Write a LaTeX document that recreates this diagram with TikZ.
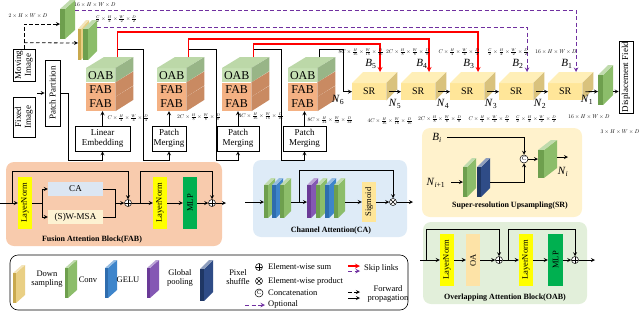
\documentclass[tikz,border=0pt]{standalone}
\usepackage{fontspec}
\setmainfont{Liberation Serif}
\usepackage{graphicx}
\usepackage{tikz}
\usetikzlibrary{positioning,calc}

\definecolor{oabfront}{HTML}{C5E0B3}
\definecolor{oabtop}{HTML}{BCD8A8}
\definecolor{oabside}{HTML}{98B587}
\definecolor{fabfront}{HTML}{F4B183}
\definecolor{fabside}{HTML}{C98A62}
\definecolor{srfront}{HTML}{FFE699}
\definecolor{srtop}{HTML}{FFEFB8}
\definecolor{srside}{HTML}{D9C27D}
\definecolor{fabpanel}{HTML}{F8CBAD}
\definecolor{capanel}{HTML}{DEEBF7}
\definecolor{srpanel}{HTML}{FFF2CC}
\definecolor{oabpanel}{HTML}{E2EFDA}
\definecolor{cabox}{HTML}{DCE6F2}
\definecolor{msabox}{HTML}{FDF2D2}
\definecolor{oabox}{HTML}{FDE3A7}
\definecolor{normbox}{HTML}{FFFF00}
\definecolor{mlpbox}{HTML}{00B050}
\definecolor{sigbox}{HTML}{FFE699}
\definecolor{optpurple}{HTML}{7030A0}
\definecolor{convf}{HTML}{6E9F4E}
\definecolor{convs}{HTML}{8CBD6A}
\definecolor{geluf}{HTML}{2F6DAE}
\definecolor{gelus}{HTML}{3E85CB}
\definecolor{poolf}{HTML}{6A3A97}
\definecolor{pools}{HTML}{8458B4}
\definecolor{pixf}{HTML}{1F3764}
\definecolor{pixs}{HTML}{2F4C87}
\definecolor{downf}{HTML}{C9A94E}
\definecolor{downs}{HTML}{E9CF84}

\newcommand{\tinymath}[1]{\scalebox{0.55}{$#1$}}
\newcommand{\dimlab}[2]{\tinymath{#1\times\frac{H}{#2}\times\frac{W}{#2}\times\frac{D}{#2}}}
\newcommand{\nlab}[2]{\textit{#1}\textsubscript{#2}}
\newcommand{\vtxt}[1]{\rotatebox{90}{#1}}
% thin 3D slab: x, y of front bottom-left, width, height, dx, dy, front colour, side colour
\newcommand{\slab}[8]{%
  \fill[#8] (#1+#3,#2) -- ++(#5,-#6) -- ++(0,-#4) -- ++(-#5,#6) -- cycle;
  \fill[#8!55!white] (#1,#2-#4) -- ++(#5,-#6) -- ++(#3,0) -- ++(-#5,#6) -- cycle;
  \fill[#7] (#1,#2) rectangle ++(#3,-#4);
}
% encoder stage cube: name, x, y of front top-left
\newcommand{\stagecube}[3]{%
  \node[layerbox,fill=oabfront,anchor=north west] (#1o) at (#2,#3) {OAB};
  \node[layerbox,fill=fabfront,below=0pt of #1o] (#1f) {FAB};
  \node[layerbox,fill=fabfront,below=0pt of #1f] (#1g) {FAB};
  \fill[oabtop] (#1o.north west) -- ++(18,-11) -- ++(29,0) -- (#1o.north east) -- cycle;
  \fill[oabside] (#1o.north east) -- ++(18,-11) -- ++(0,14) -- (#1o.south east) -- cycle;
  \fill[fabside] (#1f.north east) -- ++(18,-11) -- ++(0,14) -- (#1f.south east) -- cycle;
  \fill[fabside] (#1g.north east) -- ++(18,-11) -- ++(0,14) -- (#1g.south east) -- cycle;
  \coordinate (#1t) at ($(#1o.north east)+(2,-11)$);
}
% SR cube: name, x of front left
\newcommand{\srcube}[2]{%
  \node[srbox,anchor=north west] (#1) at (#2,83) {SR};
  \fill[srtop] (#1.north west) -- ++(11,-11) -- ++(34,0) -- (#1.north east) -- cycle;
  \fill[srside] (#1.north east) -- ++(11,-11) -- ++(0,17) -- (#1.south east) -- cycle;
  \coordinate (#1t) at ($(#1.north west)+(28,-11)$);
}

\begin{document}
\begin{tikzpicture}[x=1pt,y=-1pt,>=stealth,
  every node/.style={inner sep=0pt},
  conn/.style={->,line width=0.8pt},
  wire/.style={line width=0.8pt},
  skipred/.style={->,red,line width=1.2pt},
  optdash/.style={->,optpurple,line width=1pt,dash pattern=on 4pt off 2.5pt},
  fwddash/.style={->,line width=0.8pt,dash pattern=on 3.5pt off 2.5pt},
  plainbox/.style={draw,fill=white,line width=0.6pt,align=center,font=\fontsize{9}{10}\selectfont},
  layerbox/.style={minimum width=29pt,minimum height=14pt,font=\fontsize{12}{12}\selectfont},
  srbox/.style={fill=srfront,minimum width=34pt,minimum height=17pt,font=\fontsize{10}{10}\selectfont},
  dimlbl/.style={font=\fontsize{10}{10}\selectfont},
  symlbl/.style={font=\fontsize{11}{11}\selectfont},
  paneltitle/.style={font=\fontsize{8}{8}\selectfont\bfseries},
  legtxt/.style={font=\fontsize{8.5}{9.5}\selectfont,align=center},
  blockbox/.style={minimum width=14pt,minimum height=52pt,font=\fontsize{8.5}{8.5}\selectfont},
  flatbox/.style={minimum width=55pt,minimum height=14pt,font=\fontsize{9}{9}\selectfont},
  oplus/.style={circle,draw,fill=white,minimum size=7pt,line width=0.5pt,
    path picture={\draw[line width=0.5pt] (path picture bounding box.north) -- (path picture bounding box.south)
      (path picture bounding box.west) -- (path picture bounding box.east);}},
  otimes/.style={circle,draw,fill=white,minimum size=7pt,line width=0.5pt,
    path picture={\draw[line width=0.5pt] (path picture bounding box.north west) -- (path picture bounding box.south east)
      (path picture bounding box.north east) -- (path picture bounding box.south west);}},
  ocat/.style={circle,draw,fill=white,minimum size=8pt,line width=0.5pt,font=\fontsize{6}{6}\selectfont}]

\useasboundingbox (0,0) rectangle (640,311);

% panels
\fill[fabpanel,rounded corners=8pt] (6,162) rectangle (222,246);
\fill[capanel,rounded corners=8pt] (253,160) rectangle (407,237);
\fill[srpanel,rounded corners=8pt] (422,128) rectangle (582,217);
\fill[oabpanel,rounded corners=8pt] (423,222) rectangle (587,304);
\draw[fill=white,rounded corners=8pt,line width=0.6pt] (10,255) rectangle (408,310);

% inputs and encoder
\node[plainbox,minimum width=22pt,minimum height=32pt] (mov) at (24,65) {\vtxt{\begin{tabular}{@{}c@{}}Moving\\Image\end{tabular}}};
\node[plainbox,minimum width=22pt,minimum height=40pt] (fix) at (24,117) {\vtxt{\begin{tabular}{@{}c@{}}Fixed\\Image\end{tabular}}};
\node[plainbox,minimum width=15pt,minimum height=66pt] (pp) at (52.5,93) {\vtxt{Patch Partition}};
\node[plainbox,minimum width=55pt,minimum height=25pt] (le) at (102.5,138.5) {Linear\\Embedding};
\node[plainbox,minimum width=34pt,minimum height=25pt] (pm1) at (169,138.5) {Patch\\Merging};
\node[plainbox,minimum width=42pt,minimum height=25pt] (pm2) at (238,138.5) {Patch\\Merging};
\node[plainbox,minimum width=43pt,minimum height=25pt] (pm3) at (304.5,138.5) {Patch\\Merging};
\coordinate (pin) at (37,93);

\stagecube{c1}{86}{68}
\stagecube{c2}{157}{68}
\stagecube{c3}{222}{68}
\stagecube{c4}{288}{68}

% decoder
\srcube{sr5}{352}
\srcube{sr4}{401}
\srcube{sr3}{450}
\srcube{sr2}{499}
\srcube{sr1}{548}

\slab{60}{39}{5}{30}{10}{9}{convf}{convs}
\slab{78}{60}{3}{31}{8}{9}{downf}{downs}
\slab{83}{60}{5}{31}{9}{9}{convf}{convs}
\slab{598}{105}{5}{30}{10}{10}{convf}{convs}
\coordinate (s1in) at (60,24);
\coordinate (s1out) at (75,10);
\coordinate (s2in) at (78,43);
\coordinate (s2out) at (97,27);
\coordinate (s3in) at (598,91.5);
\coordinate (s3out) at (613,91.5);
\node[plainbox,minimum width=14pt,minimum height=72pt] (disp) at (626,77) {\vtxt{Displacement Field}};

\draw[fwddash] (mov.north) |- (s1in);
\draw[fwddash] ($(mov.north)+(0,-6)$) -- (s2in);
\draw[conn] (pin) -- (pp.west);
\draw[conn] (pp.east) -- ++(8,0) |- ($(le.south)+(0,9)$) -- (le.south);
\draw[conn] (le.north) -- (le.north |- c1g.south);
\draw[conn] (pm1.north) -- (pm1.north |- c2g.south);
\draw[conn] (pm2.north) -- (pm2.north |- c3g.south);
\draw[conn] (pm3.north) -- (pm3.north |- c4g.south);
\draw[conn] (c1t) -- ++(0,-8) -- ++(26,0) |- ($(pm1.south)+(0,9)$) -- (pm1.south);
\draw[conn] (c2t) -- ++(0,-8) -- ++(28,0) |- ($(pm2.south)+(0,9)$) -- (pm2.south);
\draw[conn] (c3t) -- ++(0,-8) -- ++(28,0) |- ($(pm3.south)+(0,9)$) -- (pm3.south);
\draw[conn] (c4t) -- ++(0,-8) -- ++(24,0) |- (sr5.west);
\draw[skipred] (c1t) -- ++(0,-25) -| (sr3t);
\draw[skipred] (c2t) -- ++(0,-18) -| (sr4t);
\draw[skipred] (c3t) -- ++(0,-13) -| (sr5t);
\draw[optdash] (s1out) -| (sr1t);
\draw[optdash] (s2out) -| (sr2t);
\draw[conn] ([xshift=3pt]sr5.east) -- (sr4.west);
\draw[conn] ([xshift=3pt]sr4.east) -- (sr3.west);
\draw[conn] ([xshift=3pt]sr3.east) -- (sr2.west);
\draw[conn] ([xshift=3pt]sr2.east) -- (sr1.west);
\draw[conn] ([xshift=3pt]sr1.east) -- (s3in);
\draw[conn] (s3out) -- (disp.west |- s3out);

% labels
\node[symlbl] at (338,100) {\nlab{N}{6}};
\node[symlbl] at (395,104) {\nlab{N}{5}};
\node[symlbl] at (443,104) {\nlab{N}{4}};
\node[symlbl] at (491,104) {\nlab{N}{3}};
\node[symlbl] at (540,104) {\nlab{N}{2}};
\node[symlbl] at (587,100) {\nlab{N}{1}};
\node[symlbl] at (371,64) {\nlab{B}{5}};
\node[symlbl] at (422,64) {\nlab{B}{4}};
\node[symlbl] at (469,64) {\nlab{B}{3}};
\node[symlbl] at (518,64) {\nlab{B}{2}};
\node[symlbl] at (567,64) {\nlab{B}{1}};
\node[dimlbl] at (28,16) {\tinymath{2\times H\times W\times D}};
\node[dimlbl] at (95,5) {\tinymath{16\times H\times W\times D}};
\node[dimlbl] at (116,19) {\dimlab{\frac{C}{2}}{2}};
\node[dimlbl] at (128,118) {\dimlab{C}{4}};
\node[dimlbl] at (199,117) {\dimlab{2C}{8}};
\node[dimlbl] at (261,116) {\dimlab{4C}{16}};
\node[dimlbl] at (330,120) {\dimlab{8C}{32}};
\node[dimlbl] at (361,52) {\dimlab{8C}{16}};
\node[dimlbl] at (408,52) {\dimlab{2C}{8}};
\node[dimlbl] at (459,52) {\dimlab{C}{4}};
\node[dimlbl] at (508,52) {\dimlab{\frac{C}{2}}{2}};
\node[dimlbl] at (556,52) {\tinymath{16\times H\times W\times D}};
\node[dimlbl] at (390,121) {\dimlab{4C}{16}};
\node[dimlbl] at (440,119) {\dimlab{2C}{8}};
\node[dimlbl] at (489,119) {\dimlab{C}{4}};
\node[dimlbl] at (536,119) {\dimlab{\frac{C}{2}}{2}};
\node[dimlbl] at (589,117) {\tinymath{16\times H\times W\times D}};
\node[dimlbl] at (620,132) {\tinymath{3\times H\times W\times D}};

% fusion attention block
\coordinate (fin) at (0,203);
\node[blockbox,fill=normbox] (fln1) at (25,203) {\vtxt{LayerNorm}};
\node[flatbox,fill=cabox] (fca) at (75.5,189) {CA};
\node[flatbox,fill=msabox] (fmsa) at (75.5,217) {(S)W-MSA};
\node[oplus] (fp1) at (128,203) {};
\node[blockbox,fill=normbox] (fln2) at (160,203) {\vtxt{LayerNorm}};
\node[blockbox,fill=mlpbox] (fmlp) at (190,203) {\vtxt{MLP}};
\node[oplus] (fp2) at (212,203) {};
\coordinate (fout) at (226,203);
\node[paneltitle] at (92,240) {Fusion Attention Block(FAB)};
\draw[conn] (fin) -- (fln1);
\draw[conn] ($(fin)+(12,0)$) -- ++(0,-32) -| (fp1);
\draw[wire] (fln1.east) -- ++(10,0) coordinate (fsplit);
\draw[conn] (fsplit) |- (fca);
\draw[conn] (fsplit) |- (fmsa);
\draw[wire] (fca.east) -| ++(12,28) -- (fmsa.east);
\draw[conn] ($(fca.east)+(12,14)$) -- (fp1);
\draw[conn] (fp1) -- (fln2);
\draw[conn] ($(fp1)+(12,0)$) -- ++(0,-32) -| (fp2);
\draw[conn] (fln2) -- (fmlp);
\draw[conn] (fmlp) -- (fp2);
\draw[conn] (fp2) -- (fout);

% channel attention
\coordinate (cin) at (245,202);
\slab{264}{218}{4}{33}{7}{7}{convf}{convs}
\slab{272}{218}{4}{33}{7}{7}{geluf}{gelus}
\slab{280}{218}{4}{33}{7}{7}{convf}{convs}
\coordinate (ca1i) at (264,202);
\coordinate (ca1o) at (291,202);
\slab{307}{218}{4}{33}{7}{7}{poolf}{pools}
\slab{316}{218}{4}{33}{7}{7}{convf}{convs}
\slab{325}{218}{4}{33}{7}{7}{geluf}{gelus}
\slab{334}{218}{4}{33}{7}{7}{convf}{convs}
\coordinate (ca2i) at (307,202);
\coordinate (ca2o) at (345,202);
\node[fill=sigbox,minimum width=14pt,minimum height=40pt,font=\fontsize{8.5}{8.5}\selectfont] (csig) at (369,202) {\vtxt{Sigmoid}};
\node[otimes] (cx) at (393,202) {};
\coordinate (cout) at (413,202);
\node[paneltitle] at (331,231) {Channel Attention(CA)};
\draw[conn] (cin) -- (ca1i);
\draw[conn] (ca1o) -- (ca2i);
\draw[conn] ($(ca1o)+(8,0)$) -- ++(0,-32) -| (cx);
\draw[conn] (ca2o) -- (csig);
\draw[conn] (csig) -- (cx);
\draw[conn] (cx) -- (cout);

% super-resolution upsampling
\node[symlbl] at (437,138) {\nlab{B}{\textit{i}}};
\coordinate (sbin) at (447,137);
\node[ocat] (scat) at (524,159) {C};
\node[symlbl] at (436,183) {\nlab{N}{\textit{i}+1}};
\coordinate (snin) at (451,182);
\slab{463}{197}{4}{30}{9}{9}{convf}{convs}
\slab{477}{197}{4}{30}{9}{9}{pixf}{pixs}
\coordinate (snsi) at (463,182);
\coordinate (snso) at (490,182);
\slab{538}{178}{6}{28}{13}{10}{convf}{convs}
\coordinate (sbigi) at (538,159);
\coordinate (sbigo) at (557,157);
\coordinate (sout) at (568,157);
\node[symlbl] at (563,172) {\nlab{N}{\textit{i}}};
\node[paneltitle] at (510,206) {Super-resolution Upsampling(SR)};
\draw[conn] (sbin) -| (scat);
\draw[conn] (snin) -- (snsi);
\draw[conn] (snso) -| (scat);
\draw[conn] (scat) -- (sbigi);
\draw[conn] (sbigo) -- (sout);

% overlapping attention block
\coordinate (oin) at (420,260);
\node[blockbox,fill=normbox] (oln1) at (447,260) {\vtxt{LayerNorm}};
\node[blockbox,fill=oabox] (ooa) at (473,260) {\vtxt{OA}};
\node[oplus] (op1) at (499,260) {};
\node[blockbox,fill=normbox] (oln2) at (526,260) {\vtxt{LayerNorm}};
\node[blockbox,fill=mlpbox,minimum width=15pt] (omlp) at (555.5,260) {\vtxt{MLP}};
\node[oplus] (op2) at (575,260) {};
\coordinate (oout) at (595,260);
\node[paneltitle] at (505,298) {Overlapping Attention Block(OAB)};
\draw[conn] (oin) -- (oln1);
\draw[conn] ($(oin)+(6,0)$) -- ++(0,-31) -| (op1);
\draw[conn] (oln1) -- (ooa);
\draw[conn] (ooa) -- (op1);
\draw[conn] (op1) -- (oln2);
\draw[conn] ($(op1)+(9,0)$) -- ++(0,-31) -| (op2);
\draw[conn] (oln2) -- (omlp);
\draw[conn] (omlp) -- (op2);
\draw[conn] (op2) -- (oout);

% legend
\slab{13}{303}{3}{30}{9}{8}{downf}{downs}
\node[legtxt] at (47,279) {Down\\sampling};
\slab{65}{298}{3}{30}{9}{8}{convf}{convs}
\node[legtxt] at (88,280) {Conv};
\slab{105}{298}{3}{30}{9}{8}{geluf}{gelus}
\node[legtxt] at (128,280) {GELU};
\slab{147}{298}{3}{30}{9}{8}{poolf}{pools}
\node[legtxt] at (180,278) {Global\\pooling};
\slab{200}{301}{4}{32}{9}{9}{pixf}{pixs}
\node[legtxt] at (238,277) {Pixel\\shuffle};
\node[oplus] (lsum) at (259,267) {};
\node[legtxt,anchor=west] at (268,267) {Element-wise sum};
\node[otimes] (lprod) at (259,281) {};
\node[legtxt,anchor=west] at (268,281) {Element-wise product};
\node[ocat] (lcat) at (259,293) {C};
\node[legtxt,anchor=west] at (268,293) {Concatenation};
\draw[optdash] (245,305) -- ++(20,0);
\node[legtxt,anchor=west] at (268,304) {Optional};
\draw[skipred] (348,266) -- ++(12,0);
\draw[optdash] (348,271) -- ++(12,0);
\node[legtxt,anchor=west] at (364,268) {Skip links};
\draw[fwddash] (348,292) -- ++(12,0);
\draw[conn] (348,298) -- ++(12,0);
\node[legtxt] at (388,294) {Forward\\propagation};
\end{tikzpicture}
\end{document}
